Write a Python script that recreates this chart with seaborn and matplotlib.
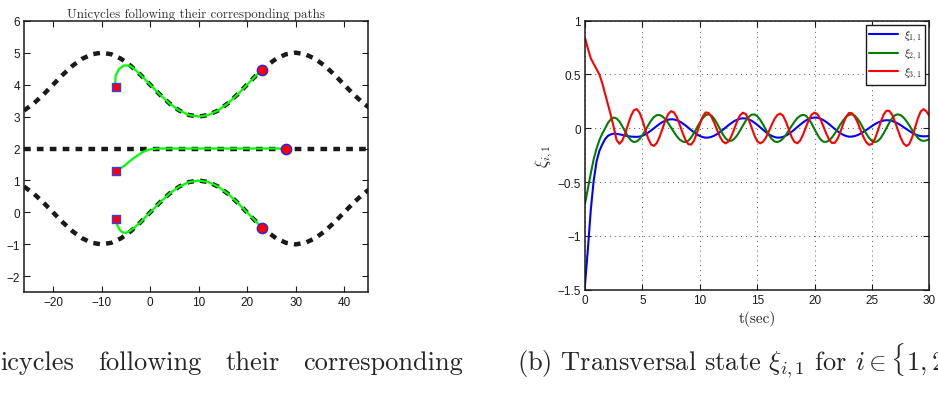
import numpy as np
import pandas as pd
import matplotlib
matplotlib.use("Agg")
import matplotlib.pyplot as plt
import seaborn as sns

# ---------------- Left panel data (paths and unicycle trajectories) -------------
path_x = [-26, -24, -22, -20, -18, -16, -14, -12, -10, -8, -6, -4, -2, 0, 2, 4, 6, 8,
          10, 12, 14, 16, 18, 20, 22, 24, 26, 28, 30, 32, 34, 36, 38, 40, 42, 44, 46]
path_top_y = [3.19, 3.41, 3.69, 4.00, 4.31, 4.59, 4.81, 4.95, 5.00, 4.95, 4.81, 4.59,
              4.31, 4.00, 3.69, 3.41, 3.19, 3.05, 3.00, 3.05, 3.19, 3.41, 3.69, 4.00,
              4.31, 4.59, 4.81, 4.95, 5.00, 4.95, 4.81, 4.59, 4.31, 4.00, 3.69, 3.41, 3.19]
path_bottom_y = [0.81, 0.59, 0.31, 0.00, -0.31, -0.59, -0.81, -0.95, -1.00, -0.95, -0.81,
                 -0.59, -0.31, 0.00, 0.31, 0.59, 0.81, 0.95, 1.00, 0.95, 0.81, 0.59, 0.31,
                 0.00, -0.31, -0.59, -0.81, -0.95, -1.00, -0.95, -0.81, -0.59, -0.31, 0.00,
                 0.31, 0.59, 0.81]
path_mid_x = [-26, 46]
path_mid_y = [2.0, 2.0]

traj_top_x = [-7, -7.2, -7.1, -6.4, -5.4, -4.3, -3.5, -2.9, -2, 0, 2, 4, 6, 8, 10, 12,
              14, 16, 18, 20, 22, 23]
traj_top_y = [3.92, 4.05, 4.28, 4.49, 4.60, 4.60, 4.52, 4.44, 4.31, 4.00, 3.69, 3.41,
              3.19, 3.05, 3.00, 3.05, 3.19, 3.41, 3.69, 4.00, 4.31, 4.47]
traj_mid_x = [-7, -6.2, -5.4, -4.4, -3.3, -2.4, -1.6, -0.9, -0.2, 1.6, 28]
traj_mid_y = [1.30, 1.37, 1.45, 1.58, 1.71, 1.80, 1.88, 1.93, 1.97, 2.00, 2.00]
traj_bot_x = [-7, -6.9, -6.6, -6.2, -5.7, -5.0, -4.2, -3.3, -2, 0, 2, 4, 6, 8, 10, 12,
              14, 16, 18, 20, 22, 23]
traj_bot_y = [-0.22, -0.33, -0.45, -0.56, -0.62, -0.64, -0.58, -0.48, -0.31, 0.00, 0.31,
              0.59, 0.81, 0.95, 1.00, 0.95, 0.81, 0.59, 0.31, 0.00, -0.31, -0.48]

start_x = [-7, -7, -7]
start_y = [3.92, 1.30, -0.22]
end_x = [23, 28, 23]
end_y = [4.47, 2.00, -0.48]

left_xticks = [-20, -10, 0, 10, 20, 30, 40]
left_yticks = [-2, -1, 0, 1, 2, 3, 4, 5, 6]

# ---------------- Right panel data (transversal states) -------------------------
t_sec = np.linspace(0, 30, 121)
xi_11 = [-1.45, -1.12, -0.76, -0.49, -0.31, -0.21, -0.15, -0.10, -0.07, -0.056, -0.050,
         -0.052, -0.056, -0.062, -0.068, -0.073, -0.077, -0.079, -0.080, -0.077, -0.069,
         -0.057, -0.040, -0.021, 0.000, 0.021, 0.041, 0.058, 0.071, 0.080, 0.084, 0.082,
         0.075, 0.063, 0.046, 0.027, 0.005, -0.017, -0.038, -0.056, -0.071, -0.082, -0.087,
         -0.086, -0.080, -0.069, -0.054, -0.036, -0.015, 0.007, 0.029, 0.049, 0.067, 0.080,
         0.089, 0.093, 0.091, 0.083, 0.071, 0.053, 0.033, 0.010, -0.013, -0.035, -0.055,
         -0.070, -0.081, -0.087, -0.086, -0.080, -0.068, -0.053, -0.033, -0.011, 0.012,
         0.034, 0.055, 0.073, 0.087, 0.096, 0.100, 0.098, 0.090, 0.077, 0.060, 0.040, 0.017,
         -0.005, -0.027, -0.046, -0.061, -0.072, -0.078, -0.077, -0.072, -0.063, -0.050,
         -0.034, -0.016, 0.002, 0.021, 0.038, 0.053, 0.064, 0.072, 0.075, 0.074, 0.068,
         0.058, 0.045, 0.029, 0.011, -0.007, -0.025, -0.042, -0.056, -0.066, -0.073, -0.075,
         -0.074, -0.072]
xi_21 = [-0.70, -0.56, -0.42, -0.29, -0.19, -0.11, -0.05, 0.00, 0.05, 0.085, 0.100, 0.091,
         0.063, 0.019, -0.031, -0.078, -0.112, -0.128, -0.122, -0.100, -0.064, -0.020, 0.028,
         0.071, 0.104, 0.122, 0.124, 0.110, 0.084, 0.048, 0.006, -0.036, -0.075, -0.105,
         -0.123, -0.128, -0.115, -0.085, -0.043, 0.006, 0.054, 0.094, 0.121, 0.130, 0.119,
         0.089, 0.045, -0.006, -0.055, -0.094, -0.115, -0.116, -0.098, -0.066, -0.022, 0.025,
         0.070, 0.105, 0.126, 0.129, 0.113, 0.081, 0.037, -0.012, -0.059, -0.098, -0.122,
         -0.128, -0.118, -0.095, -0.061, -0.020, 0.022, 0.062, 0.095, 0.117, 0.125, 0.116,
         0.086, 0.042, -0.010, -0.060, -0.101, -0.124, -0.127, -0.114, -0.087, -0.050,
         -0.008, 0.036, 0.075, 0.106, 0.125, 0.130, 0.117, 0.088, 0.046, -0.002, -0.050,
         -0.090, -0.117, -0.128, -0.119, -0.092, -0.050, 0.000, 0.050, 0.092, 0.121, 0.130,
         0.122, 0.100, 0.067, 0.027, -0.016, -0.056, -0.089, -0.111, -0.118, -0.112, -0.100]
xi_31 = [0.84, 0.74, 0.65, 0.60, 0.55, 0.50, 0.42, 0.32, 0.22, 0.12, 0.01, -0.11, -0.144,
         -0.113, -0.048, 0.036, 0.115, 0.167, 0.179, 0.145, 0.076, -0.012, -0.095, -0.150,
         -0.164, -0.137, -0.079, -0.003, 0.074, 0.133, 0.159, 0.148, 0.102, 0.033, -0.043,
         -0.109, -0.148, -0.151, -0.113, -0.043, 0.038, 0.108, 0.147, 0.144, 0.110, 0.053,
         -0.014, -0.078, -0.123, -0.140, -0.123, -0.074, -0.006, 0.065, 0.120, 0.145, 0.133,
         0.083, 0.011, -0.064, -0.120, -0.140, -0.126, -0.088, -0.032, 0.029, 0.085, 0.123,
         0.137, 0.117, 0.062, -0.010, -0.081, -0.128, -0.139, -0.113, -0.058, 0.012, 0.079,
         0.128, 0.146, 0.130, 0.085, 0.022, -0.045, -0.102, -0.135, -0.136, -0.099, -0.033,
         0.043, 0.107, 0.143, 0.140, 0.108, 0.053, -0.015, -0.080, -0.130, -0.154, -0.146,
         -0.100, -0.027, 0.055, 0.124, 0.163, 0.163, 0.127, 0.063, -0.014, -0.088, -0.142,
         -0.165, -0.146, -0.084, 0.005, 0.093, 0.157, 0.178, 0.155, 0.115]
series_labels = [r'$\xi_{1,1}$', r'$\xi_{2,1}$', r'$\xi_{3,1}$']
series_colors = ['#0000ff', '#008000', '#ff0000']
right_xticks = [0, 5, 10, 15, 20, 25, 30]
right_yticks = [-1.5, -1, -0.5, 0, 0.5, 1]

# ---------------- Style ---------------------------------------------------------
sns.set_theme(style='ticks')
plt.rcParams['font.family'] = ['Liberation Sans', 'DejaVu Sans']
plt.rcParams['mathtext.fontset'] = 'cm'
plt.rcParams['axes.unicode_minus'] = True
serif = ['cmr10', 'DejaVu Serif']

fig = plt.figure(figsize=(9.38, 4.10), dpi=100)
axL = fig.add_axes([0.0256, 0.2846, 0.3671, 0.6624])
axR = fig.add_axes([0.6237, 0.2910, 0.3671, 0.6561])

# ---------------- Left panel ----------------------------------------------------
dash = (0, (1.5, 1.4))
for xs, ys in [(path_x, path_top_y), (path_mid_x, path_mid_y), (path_x, path_bottom_y)]:
    sns.lineplot(x=xs, y=ys, ax=axL, sort=False, estimator=None, color='k',
                 lw=3.2, linestyle=dash)
for xs, ys in [(traj_top_x, traj_top_y), (traj_mid_x, traj_mid_y), (traj_bot_x, traj_bot_y)]:
    sns.lineplot(x=xs, y=ys, ax=axL, sort=False, estimator=None, color='#00ff00', lw=1.6)
sns.scatterplot(x=start_x, y=start_y, ax=axL, marker='s', s=40, color='#ff0000',
                edgecolor='#3a3aff', linewidth=1.0, zorder=5)
sns.scatterplot(x=end_x, y=end_y, ax=axL, marker='o', s=55, color='#ff0000',
                edgecolor='#2020ff', linewidth=1.0, zorder=5)

axL.set_xlim(-26, 45)
axL.set_ylim(-2.5, 6)
axL.set_xticks(left_xticks)
axL.set_yticks(left_yticks)
axL.set_title('Unicycles following their corresponding paths', family=serif,
              fontsize=9.4, color='#333333', pad=3)

# ---------------- Right panel ---------------------------------------------------
df = pd.DataFrame({
    't': np.concatenate([t_sec, t_sec, t_sec]),
    'xi': xi_11 + xi_21 + xi_31,
    'series': np.repeat(series_labels, len(t_sec)),
})
sns.lineplot(data=df, x='t', y='xi', hue='series', hue_order=series_labels,
             palette=series_colors, lw=1.5, ax=axR, estimator=None, sort=False)
axR.set_xlim(0, 30)
axR.set_ylim(-1.5, 1)
axR.set_xticks(right_xticks)
axR.set_yticks(right_yticks)
axR.set_yticklabels(['\u22121.5', '\u22121', '\u22120.5', '0', '0.5', '1'])
axR.grid(True, linestyle=(0, (1, 4)), color='#555555', lw=0.7)
axR.set_xlabel('t(sec)', family=serif, fontsize=11, labelpad=3)
axR.set_ylabel(r'$\xi_{i,1}$', fontsize=12, labelpad=2)
sns.move_legend(axR, loc='upper right', title=None, frameon=True, fontsize=8,
                handlelength=2.6, labelspacing=0.3, borderaxespad=0.35, fancybox=False,
                edgecolor='k', framealpha=1, borderpad=0.35, handletextpad=0.5)
axR.get_legend().get_frame().set_linewidth(1.0)

for ax in (axL, axR):
    ax.tick_params(direction='in', top=True, right=True, length=4, width=0.8,
                   labelsize=8.5, colors='k', pad=3)
    for sp in ax.spines.values():
        sp.set_linewidth(1.1)
        sp.set_color('k')
        sp.set_visible(True)

# ---------------- Captions ------------------------------------------------------
cap_y = 1 - 370 / 410
for word, xpx in [('icycles', 0), ('following', 97.7), ('their', 225), ('corresponding', 302.7)]:
    fig.text(xpx / 938, cap_y, word, family=serif, fontsize=19, va='baseline', ha='left')
fig.text(516.7 / 938, cap_y, r'(b) Transversal state $\xi_{i,1}$ for $i \in \{1,2,3\}$',
         family=serif, fontsize=19, va='baseline', ha='left')

fig.savefig('out.png', dpi=100)
